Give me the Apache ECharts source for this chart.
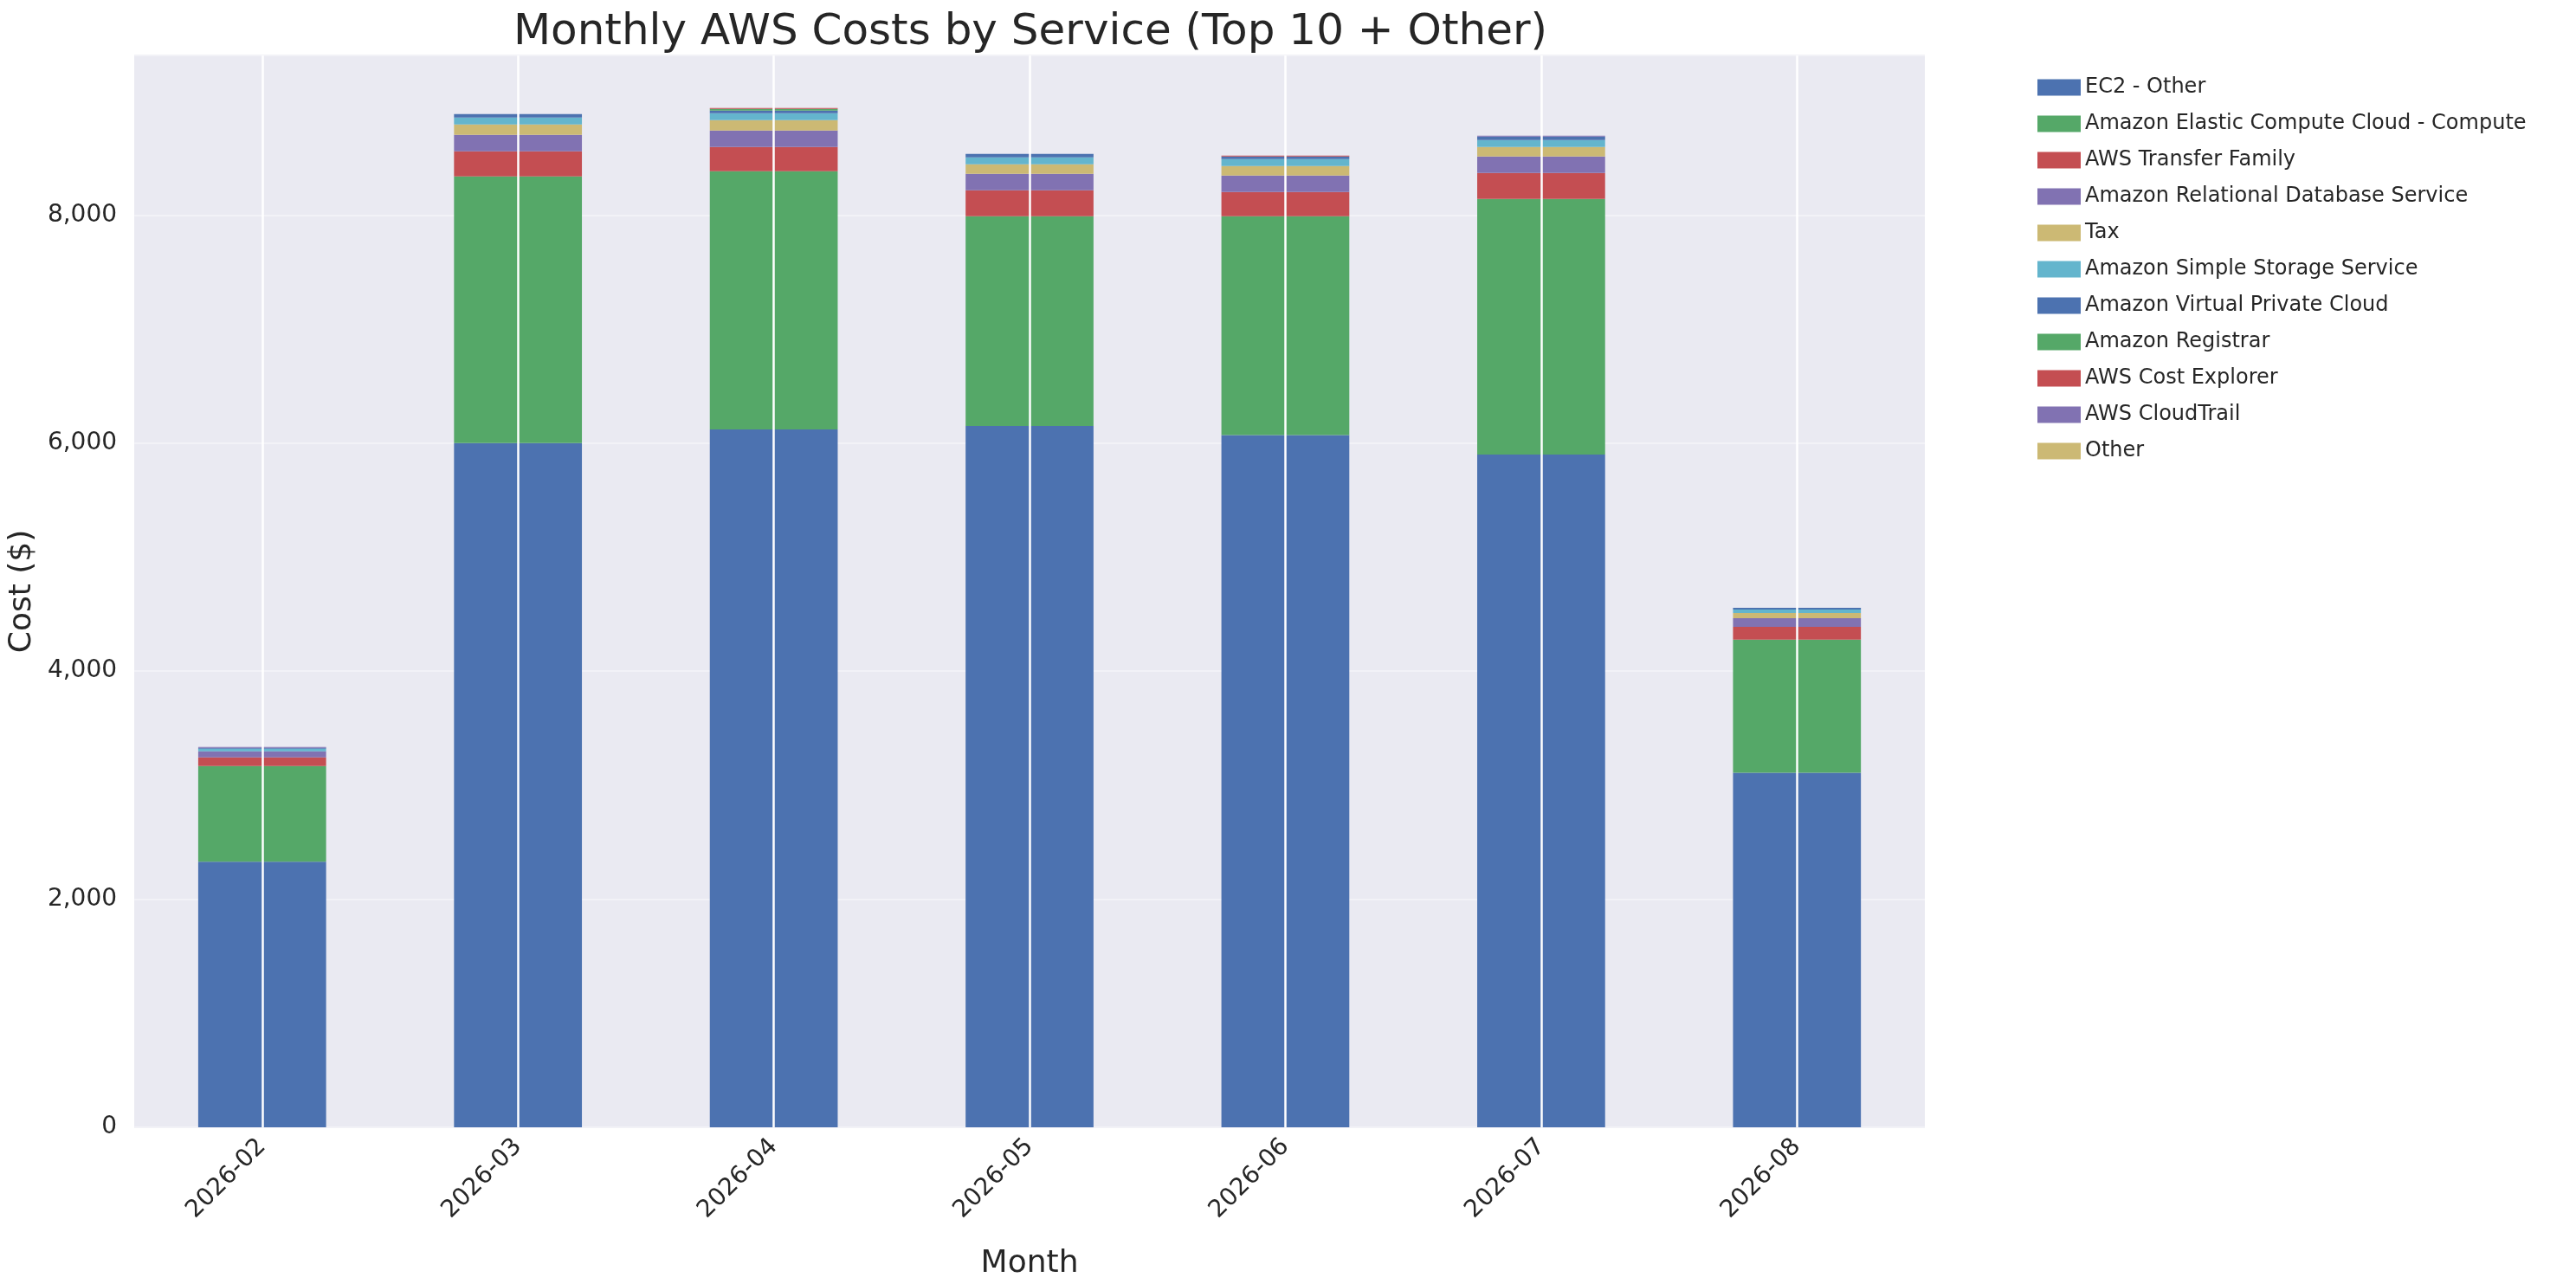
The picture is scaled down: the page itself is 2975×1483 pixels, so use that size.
<!DOCTYPE html>
<html>
<head>
<meta charset="utf-8">
<script src="https://cdn.jsdelivr.net/npm/echarts@6/dist/echarts.min.js"></script>
<style>html,body{margin:0;padding:0;background:#fff}#chart{width:2975px;height:1483px}</style>
</head>
<body>
<div id="chart"></div>
<script>
// months and per-service costs
const months = ["2026-02", "2026-03", "2026-04", "2026-05", "2026-06", "2026-07", "2026-08"];
const ec2Other = [2330, 6000, 6120, 6150, 6070, 5900, 3110];
const ec2Compute = [838, 2339, 2265, 1840, 1920, 2242, 1167];
const transferFamily = [76, 220, 212, 228, 212, 227, 112];
const rds = [53, 144, 144, 144, 145, 145, 76];
const tax = [0, 91, 91, 83, 83, 83, 45];
const s3 = [23, 61, 61, 61, 61, 61, 30];
const vpc = [8, 30, 23, 30, 23, 30, 15];
const registrar = [0, 0, 15, 0, 0, 0, 0];
const costExplorer = [0, 0, 8, 0, 8, 0, 0];
const cloudTrail = [8, 0, 0, 0, 0, 8, 0];
const other = [0, 0, 0, 0, 0, 0, 0];

const serviceNames = [
  "EC2 - Other", "Amazon Elastic Compute Cloud - Compute", "AWS Transfer Family",
  "Amazon Relational Database Service", "Tax", "Amazon Simple Storage Service",
  "Amazon Virtual Private Cloud", "Amazon Registrar", "AWS Cost Explorer", "AWS CloudTrail", "Other"
];
const serviceData = [ec2Other, ec2Compute, transferFamily, rds, tax, s3, vpc, registrar, costExplorer, cloudTrail, other];
const colors = ["#4C72B0", "#55A868", "#C44E52", "#8172B2", "#CCB974", "#64B5CD",
  "#4C72B0", "#55A868", "#C44E52", "#8172B2", "#CCB974"];

const font = "DejaVu Sans";
const chart = echarts.init(document.getElementById("chart"));

const series = serviceNames.map((name, i) => ({
  name: name,
  type: "bar",
  stack: "total",
  barWidth: "50%",
  data: serviceData[i],
  itemStyle: { color: colors[i] },
  z: 3
}));
// white vertical grid lines at category centres, behind bars
series.push({
  type: "line",
  data: [],
  z: 1,
  silent: true,
  markLine: {
    silent: true,
    symbol: "none",
    label: { show: false },
    lineStyle: { color: "#ffffff", type: "solid", width: 2.5 },
    data: months.map(m => ({ xAxis: m }))
  }
});

chart.setOption({
  animation: false,
  color: colors,
  textStyle: { fontFamily: font },
  title: {
    text: "Monthly AWS Costs by Service (Top 10 + Other)",
    left: 1185, top: 8, textAlign: "center",
    textStyle: { fontFamily: font, fontSize: 50, fontWeight: "normal", color: "#262626" }
  },
  legend: {
    orient: "vertical",
    left: 2348, top: 84,
    itemWidth: 50, itemHeight: 19, itemGap: 18,
    icon: "rect",
    data: serviceNames,
    textStyle: { fontFamily: font, fontSize: 24, color: "#262626" }
  },
  grid: { left: 148, right: 752, top: 64, bottom: 179, backgroundColor: "#EAEAF2", show: true, borderWidth: 0 },
  xAxis: {
    type: "category",
    data: months,
    name: "Month",
    nameLocation: "middle",
    nameGap: 140,
    nameTextStyle: { fontFamily: font, fontSize: 36, color: "#262626" },
    axisLine: { show: false },
    axisTick: { show: false },
    axisLabel: { rotate: 45, fontFamily: font, fontSize: 28, color: "#262626", margin: 18 }
  },
  yAxis: {
    type: "value",
    min: 0, max: 9400, interval: 2000,
    name: "Cost ($)",
    nameLocation: "middle",
    nameGap: 95,
    nameTextStyle: { fontFamily: font, fontSize: 36, color: "#262626" },
    axisLine: { show: false },
    axisTick: { show: false },
    axisLabel: { fontFamily: font, fontSize: 28, color: "#262626", margin: 20, showMaxLabel: false },
    splitLine: { lineStyle: { color: "#F2F2F7", width: 2 } }
  },
  series: series
});
</script>
</body>
</html>
